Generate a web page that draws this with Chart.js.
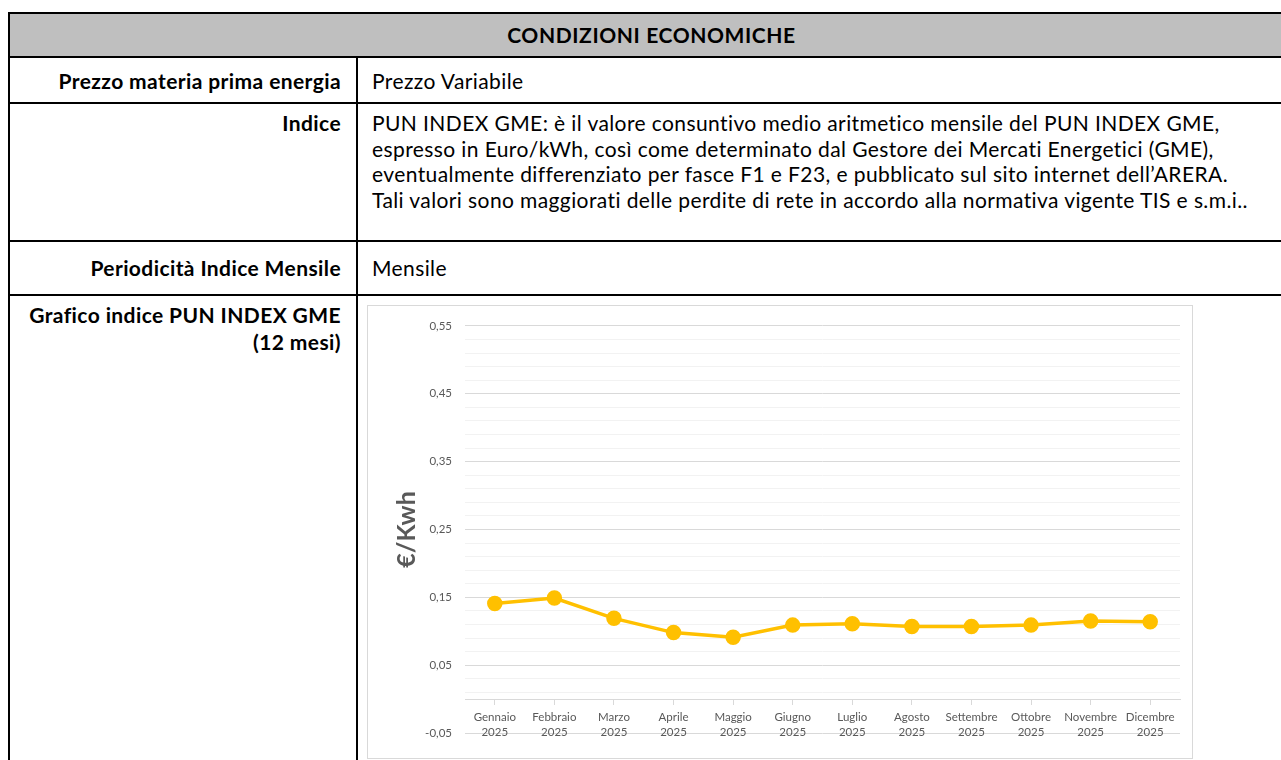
<!DOCTYPE html>
<html>
<head>
<meta charset="utf-8">
<script src="https://cdn.jsdelivr.net/npm/chart.js@4.4.1/dist/chart.umd.min.js"></script>
<style>
  html, body { margin: 0; padding: 0; background: #fff; width: 1281px; height: 760px; overflow: hidden; }
  body { position: relative; font-family: Lato, "Open Sans", sans-serif; color: #000; }
  .hl { position: absolute; left: 8px; width: 1290px; height: 2px; background: #000; }
  .vl { position: absolute; width: 2px; background: #000; }
  .hdr { position: absolute; left: 8px; top: 12px; width: 1290px; height: 45px; background: #bfbfbf; }
  .t { position: absolute; font-size: 21px; letter-spacing: 0.4px; white-space: nowrap; line-height: 21px; }
  .b { font-weight: bold; }
  .lab { right: calc(1281px - 341px); text-align: right; }
  .val { left: 372px; }
  #chartBox { position: absolute; left: 367px; top: 305px; width: 826px; height: 454px; box-sizing: border-box; border: 1px solid #d9d9d9; background: #fff; }
  #chartBox canvas { display: block; }
</style>
</head>
<body>
<div class="hdr"></div>
<div class="hl" style="top:12px"></div>
<div class="hl" style="top:56px"></div>
<div class="hl" style="top:102px"></div>
<div class="hl" style="top:240px"></div>
<div class="hl" style="top:294px"></div>
<div class="vl" style="left:8px; top:12px; height:760px"></div>
<div class="vl" style="left:356px; top:56px; height:720px"></div>

<div class="t b" style="left:0; width:1303px; text-align:center; top:24px; letter-spacing:0.6px;">CONDIZIONI ECONOMICHE</div>

<div class="t b lab" style="top:70px;">Prezzo materia prima energia</div>
<div class="t val" style="top:70px;">Prezzo Variabile</div>

<div class="t b lab" style="top:112px;">Indice</div>
<div class="t val" style="top:110px; line-height:25.7px;">PUN INDEX GME: è il valore consuntivo medio aritmetico mensile del PUN INDEX GME,<br>espresso in Euro/kWh, così come determinato dal Gestore dei Mercati Energetici (GME),<br>eventualmente differenziato per fasce F1 e F23, e pubblicato sul sito internet dell’ARERA.<br>Tali valori sono maggiorati delle perdite di rete in accordo alla normativa vigente TIS e s.m.i..</div>

<div class="t b lab" style="top:257px;">Periodicità Indice Mensile</div>
<div class="t val" style="top:257px;">Mensile</div>

<div class="t b lab" style="top:302px; line-height:26.7px;">Grafico indice PUN INDEX GME<br>(12 mesi)</div>

<div id="chartBox"><canvas id="c" width="824" height="452"></canvas></div>

<script>
const months = ["Gennaio", "Febbraio", "Marzo", "Aprile", "Maggio", "Giugno", "Luglio", "Agosto", "Settembre", "Ottobre", "Novembre", "Dicembre"];
const yearLabel = "2025";
const punValues = [0.141, 0.149, 0.119, 0.098, 0.091, 0.109, 0.111, 0.107, 0.107, 0.109, 0.115, 0.114];
const yMin = -0.05;
const yMax = 0.55;
const yMinorStep = 0.02;
const yMajorEvery = 5;
const yAxisTitle = "€/Kwh";

const categories = months.map(m => [m, yearLabel]);
const tickValues = [];
for (let i = 0; ; i++) {
  const v = Math.round((yMin + i * yMinorStep) * 1000) / 1000;
  if (v > yMax + 1e-9) break;
  tickValues.push(v);
}

const gray = '#595959';
new Chart(document.getElementById('c'), {
  type: 'line',
  data: {
    labels: categories,
    datasets: [{
      data: punValues,
      borderColor: '#FFC000',
      backgroundColor: '#FFC000',
      pointBackgroundColor: '#FFC000',
      pointBorderColor: '#FFC000',
      borderWidth: 3.5,
      pointRadius: 6,
      pointHoverRadius: 6,
      tension: 0
    }]
  },
  options: {
    responsive: false,
    animation: false,
    devicePixelRatio: 1,
    layout: { padding: { left: 0, top: 16, right: 12, bottom: 25 } },
    plugins: { legend: { display: false }, tooltip: { enabled: false } },
    scales: {
      y: {
        min: yMin,
        max: yMax,
        afterBuildTicks: (scale) => { scale.ticks = tickValues.map(v => ({ value: v })); },
        afterFit: (scale) => { scale.width = 97; },
        ticks: {
          autoSkip: false,
          padding: 13,
          color: gray,
          font: { family: 'Lato', size: 11.5 },
          callback: (value, index) => index % yMajorEvery === 0 ? value.toFixed(2).replace('.', ',') : ''
        },
        grid: {
          drawTicks: false,
          color: (ctx) => {
            const i = ctx.index;
            if (i === 1 || i === 2) return 'rgba(0,0,0,0)';
            return i % yMajorEvery === 0 ? '#d9d9d9' : '#f2f2f2';
          },
          lineWidth: 1
        },
        border: { display: false },
        title: {
          display: true,
          text: yAxisTitle,
          color: gray,
          font: { family: 'Lato', size: 25, weight: 'bold', lineHeight: 1 },
          padding: { top: 26, bottom: 0 }
        }
      },
      x: {
        position: { y: 0 },
        offset: true,
        afterFit: (scale) => { scale.height = 0; },
        ticks: {
          autoSkip: false,
          maxRotation: 0,
          minRotation: 0,
          padding: 5,
          color: gray,
          font: { family: 'Lato', size: 11.5, lineHeight: 1.35 }
        },
        grid: {
          drawOnChartArea: false,
          drawTicks: true,
          tickLength: 5,
          color: '#d9d9d9'
        },
        border: { display: true, color: '#d9d9d9', width: 1 }
      }
    }
  }
});
</script>
</body>
</html>
